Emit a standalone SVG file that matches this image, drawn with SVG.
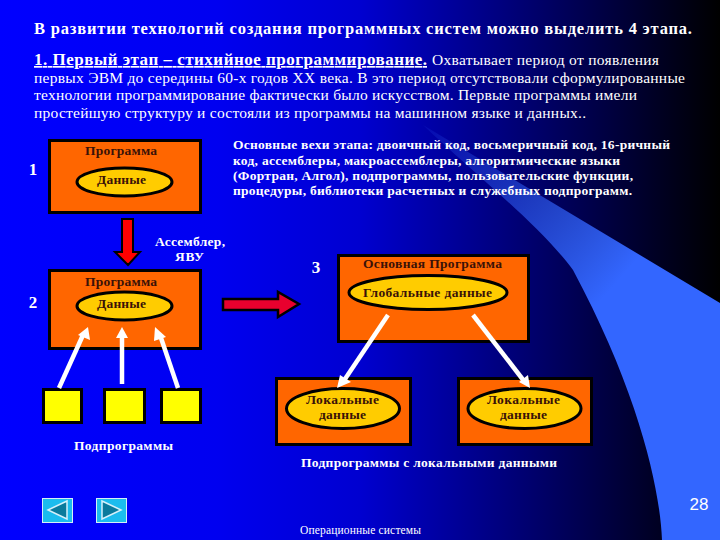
<svg xmlns="http://www.w3.org/2000/svg" width="720" height="540" viewBox="0 0 720 540">
<style>
text{font-family:"Liberation Serif","Times New Roman",serif;fill:#fff}
.b{font-weight:bold}
.d{fill:#3a1208;font-weight:bold;font-size:13.5px}
.box{fill:#ff6600;stroke:#000;stroke-width:3}
.ell{fill:#ffcc00;stroke:#000;stroke-width:3}
.sq{fill:#ffff00;stroke:#000;stroke-width:3}
.wl{fill:none;stroke:#fff;stroke-width:4.500}
.wh{fill:#fff}
.body{font-size:15.5px}
.ms{font-size:13.5px;font-weight:bold}
.nav{fill:#1bbcee;stroke:#d5eef8;stroke-width:1}
.tri{fill:#0a7a9c;stroke:#d5f0fa;stroke-width:1.5}
</style>
<defs>
<linearGradient id="bg" x1="0" y1="0" x2="1" y2="0">
<stop offset="0" stop-color="#0000ff"/><stop offset=".3" stop-color="#0000f0"/><stop offset=".5" stop-color="#0000d0"/><stop offset=".75" stop-color="#000068"/><stop offset=".92" stop-color="#000020"/><stop offset="1" stop-color="#000"/>
</linearGradient>
<linearGradient id="beam" gradientUnits="userSpaceOnUse" x1="423" y1="125" x2="610" y2="290">
<stop offset="0" stop-color="#3366ff" stop-opacity=".1"/><stop offset="1" stop-color="#3366ff"/>
</linearGradient>
</defs>
<rect width="720" height="540" fill="url(#bg)"/>
<path d="M423 125 L720 303 V540 H662 C660 490 640 395 573 270 C540 225 470 170 423 125Z" fill="url(#beam)"/>

<text class="b" x="34" y="34" font-size="16.5" textLength="658" lengthAdjust="spacing">В развитии технологий создания программных систем можно выделить 4 этапа.</text>
<text class="b" x="34" y="65" font-size="17" text-decoration="underline" textLength="393" lengthAdjust="spacing">1. Первый этап – стихийное программирование.</text>
<text class="body" x="432" y="65" textLength="227" lengthAdjust="spacing">Охватывает период от появления</text>
<text class="body" x="34" y="83" textLength="651" lengthAdjust="spacing">первых ЭВМ до середины 60-х годов ХХ века. В это период отсутствовали сформулированные</text>
<text class="body" x="34" y="100" textLength="603" lengthAdjust="spacing">технологии программирование фактически было искусством. Первые программы имели</text>
<text class="body" x="34" y="118" textLength="552" lengthAdjust="spacing">простейшую структуру и состояли из программы на машинном языке и данных..</text>

<text class="ms" x="233" y="149" textLength="437" lengthAdjust="spacing">Основные вехи этапа: двоичный код, восьмеричный код, 16-ричный</text>
<text class="ms" x="233" y="165" textLength="387" lengthAdjust="spacing">код, ассемблеры, макроассемблеры, алгоритмические языки</text>
<text class="ms" x="233" y="180" textLength="400" lengthAdjust="spacing">(Фортран, Алгол), подпрограммы, пользовательские функции,</text>
<text class="ms" x="233" y="195" textLength="399" lengthAdjust="spacing">процедуры, библиотеки расчетных и служебных подпрограмм.</text>

<g id="node-1">
<rect class="box" x="49.500" y="140.500" width="151" height="72"/>
<ellipse class="ell" cx="124.500" cy="182" rx="47.500" ry="14"/>
<text class="d" x="85" y="155" textLength="72" lengthAdjust="spacing">Программа</text>
<text class="d" x="97" y="184" textLength="49" lengthAdjust="spacing">Данные</text>
<text class="b" x="33" y="175" font-size="17" text-anchor="middle">1</text>
</g>
<g id="label-asm">
<text class="ms" x="155" y="246" textLength="70" lengthAdjust="spacing">Ассемблер,</text>
<text class="ms" x="175" y="261" textLength="29" lengthAdjust="spacing">ЯВУ</text>
</g>
<g id="node-2">
<rect class="box" x="49.500" y="270.500" width="151" height="78"/>
<ellipse class="ell" cx="124.500" cy="306" rx="47.500" ry="14"/>
<text class="d" x="85" y="286" textLength="72" lengthAdjust="spacing">Программа</text>
<text class="d" x="97" y="308" textLength="49" lengthAdjust="spacing">Данные</text>
<text class="b" x="33" y="308" font-size="17" text-anchor="middle">2</text>
</g>
<g id="sub-1"><rect class="sq" x="43.500" y="389.500" width="38" height="33"/></g>
<g id="sub-2"><rect class="sq" x="104.500" y="389.500" width="40" height="33"/></g>
<g id="sub-3"><rect class="sq" x="161.500" y="389.500" width="39" height="33"/></g>
<text class="ms" x="74" y="450" textLength="99" lengthAdjust="spacing">Подпрограммы</text>

<g id="node-3">
<rect class="box" x="338.500" y="255.500" width="190" height="86"/>
<ellipse class="ell" cx="428" cy="292.500" rx="79" ry="17"/>
<text class="d" x="363" y="268" textLength="139" lengthAdjust="spacing">Основная Программа</text>
<text class="d" x="363" y="297" textLength="129" lengthAdjust="spacing">Глобальные данные</text>
<text class="b" x="316" y="273" font-size="17" text-anchor="middle">3</text>
</g>
<g id="node-local-1">
<rect class="box" x="276.500" y="378.500" width="134" height="66"/>
<ellipse class="ell" cx="343" cy="408.500" rx="56.500" ry="20"/>
<text class="d" x="306" y="404" textLength="73" lengthAdjust="spacing">Локальные</text>
<text class="d" x="319" y="419" textLength="47" lengthAdjust="spacing">данные</text>
</g>
<g id="node-local-2">
<rect class="box" x="458.500" y="378.500" width="133" height="66"/>
<ellipse class="ell" cx="524.500" cy="408.500" rx="56.500" ry="20"/>
<text class="d" x="487" y="404" textLength="73" lengthAdjust="spacing">Локальные</text>
<text class="d" x="500" y="419" textLength="47" lengthAdjust="spacing">данные</text>
</g>
<text class="ms" x="301" y="467" textLength="256" lengthAdjust="spacing">Подпрограммы с локальными данными</text>

<g id="connectors">
<path d="M122 219 H133 V252 H140 L128 265 L115 252 H122Z" fill="#f00" stroke="#000" stroke-width="2"/>
<path d="M223 299 H278 V292 L299 304 L278 317 V310 H223Z" fill="#e8002e" stroke="#000" stroke-width="2.500"/>
<path class="wl" d="M59 388 L83 335"/><path class="wh" d="M88 327 L90 340 L78 335Z"/>
<path class="wl" d="M122 384 V335"/><path class="wh" d="M122 327 L128 338 H116Z"/>
<path class="wl" d="M178 388 L160 335"/><path class="wh" d="M155 327 L166 337 L154 341Z"/>
<path class="wl" d="M388 315 L343 382"/><path class="wh" d="M337 388 L340 375 L351 382Z"/>
<path class="wl" d="M473 315 L524 381"/><path class="wh" d="M530 388 L519 382 L528 375Z"/>
</g>

<g id="nav-prev"><rect class="nav" x="42.500" y="498.500" width="30" height="24"/><path class="tri" d="M48 510 L67 501 V519Z"/></g>
<g id="nav-next"><rect class="nav" x="96.500" y="498.500" width="30" height="24"/><path class="tri" d="M121 510 L102 501 V519Z"/></g>
<text x="699" y="510" font-size="17" text-anchor="middle" style="font-family:'Liberation Sans',Arial,sans-serif">28</text>
<text x="300" y="534" font-size="11.500" textLength="121" lengthAdjust="spacing">Операционные системы</text>
</svg>
